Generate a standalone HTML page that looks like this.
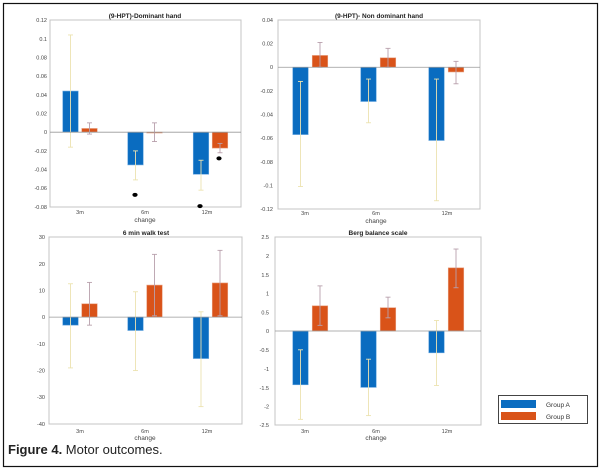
<!DOCTYPE html><html><head><meta charset="utf-8"><style>
body{margin:0;background:#fff}
svg{display:block;font-family:"Liberation Sans",sans-serif}
</style></head><body>
<svg id="s" width="601" height="471" viewBox="0 0 601 471" xmlns="http://www.w3.org/2000/svg">
<rect x="3.5" y="3.5" width="594" height="463" fill="#fff" stroke="#111" stroke-width="1.2"/>
<g font-size="5.5" fill="#444" text-anchor="end">
<text x="47" y="22">0.12</text><text x="47" y="41">0.1</text><text x="47" y="59.5">0.08</text><text x="47" y="78">0.06</text><text x="47" y="97">0.04</text><text x="47" y="115.5">0.02</text><text x="47" y="134">0</text><text x="47" y="153">-0.02</text><text x="47" y="171.5">-0.04</text><text x="47" y="190">-0.06</text><text x="47" y="209">-0.08</text>
<text x="273" y="22">0.04</text><text x="273" y="45.5">0.02</text><text x="273" y="69">0</text><text x="273" y="93">-0.02</text><text x="273" y="116.5">-0.04</text><text x="273" y="140">-0.06</text><text x="273" y="164">-0.08</text><text x="273" y="187.5">-0.1</text><text x="273" y="211">-0.12</text>
<text x="45" y="239">30</text><text x="45" y="266">20</text><text x="45" y="292.5">10</text><text x="45" y="319">0</text><text x="45" y="346">-10</text><text x="45" y="372.5">-20</text><text x="45" y="399">-30</text><text x="45" y="426">-40</text>
<text x="269" y="239">2.5</text><text x="269" y="258">2</text><text x="269" y="277">1.5</text><text x="269" y="295.5">1</text><text x="269" y="314.5">0.5</text><text x="269" y="333">0</text><text x="269" y="352">-0.5</text><text x="269" y="371">-1</text><text x="269" y="390">-1.5</text><text x="269" y="408.5">-2</text><text x="269" y="427">-2.5</text>
</g>
<g font-size="5.5" fill="#444" text-anchor="middle">
<text x="80" y="214">3m</text><text x="145" y="214">6m</text><text x="207" y="214">12m</text>
<text x="305" y="215">3m</text><text x="376" y="215">6m</text><text x="447" y="215">12m</text>
<text x="80" y="433">3m</text><text x="145" y="433">6m</text><text x="207" y="433">12m</text>
<text x="305" y="433">3m</text><text x="376" y="433">6m</text><text x="447" y="433">12m</text>
<g font-size="6.5"><text x="145" y="222">change</text><text x="376" y="223">change</text><text x="145" y="440">change</text><text x="376" y="440">change</text></g>
</g>
<g font-size="6.5" font-weight="bold" fill="#222" text-anchor="middle">
<text x="145" y="18">(9-HPT)-Dominant hand</text>
<text x="379" y="18">(9-HPT)- Non dominant hand</text>
<text x="146" y="235">6 min walk test</text>
<text x="378" y="235">Berg balance scale</text>
</g>
<g id="plots"></g>
<rect x="498.5" y="395.5" width="89" height="28" fill="#fff" stroke="#444" stroke-width="1"/>
<rect x="501" y="400" width="35" height="8" fill="#0a6cc0"/>
<rect x="501" y="412" width="35" height="8" fill="#d95319"/>
<g font-size="6.5" fill="#333"><text x="546" y="407">Group A</text><text x="546" y="419">Group B</text></g>
<text x="8" y="454" font-size="13" fill="#222"><tspan font-weight="bold">Figure 4.</tspan> Motor outcomes.</text>
</svg>
<script>
var P=[
{l:50,r:241,t:20,b:207,max:0.12,min:-0.08,c:[80,145,210.5],off:[-9.5,9.5],
 A:[[0.044,0.104,-0.016],[-0.035,-0.02,-0.051],[-0.045,-0.03,-0.062]],
 B:[[0.004,0.01,-0.002],[0,0.01,-0.01],[-0.017,-0.012,-0.022]],
 dots:[[135,-0.067],[200,-0.079],[219,-0.028]]},
{l:278,r:480,t:20,b:209,max:0.04,min:-0.12,c:[310,378,446],off:[-9.5,10],
 A:[[-0.057,-0.012,-0.101],[-0.029,-0.01,-0.047],[-0.062,-0.01,-0.113]],
 B:[[0.01,0.021,0],[0.008,0.016,0],[-0.004,0.005,-0.014]],dots:[]},
{l:49,r:242,t:237,b:424,max:30,min:-40,c:[80,145,210.5],off:[-9.5,9.5],
 A:[[-3,12.5,-19],[-5,9.5,-20],[-15.5,2,-33.5]],
 B:[[5,13,-3],[12,23.5,0.5],[12.8,25,0.5]],dots:[]},
{l:275,r:481,t:237,b:425,max:2.5,min:-2.5,c:[310,378,446],off:[-9.5,10],
 A:[[-1.43,-0.5,-2.35],[-1.5,-0.75,-2.25],[-0.58,0.28,-1.45]],
 B:[[0.67,1.2,0.15],[0.62,0.9,0.35],[1.68,2.18,1.15]],dots:[]}];
var h='';
P.forEach(function(p){
 function Y(v){return p.t+(p.max-v)/(p.max-p.min)*(p.b-p.t);}
 h+='<rect x="'+p.l+'" y="'+p.t+'" width="'+(p.r-p.l)+'" height="'+(p.b-p.t)+'" fill="#fff" stroke="#c4c4c4" stroke-width="1"/>';
 var z=Y(0);
 [['A','#0a6cc0','#ece3b0'],['B','#d95319','#b8a0ac']].forEach(function(g,gi){
  p[g[0]].forEach(function(d,i){
   var cx=p.c[i]+p.off[gi],w=15.5,y0=Math.min(Y(d[0]),z),y1=Math.max(Y(d[0]),z);
   h+='<rect x="'+(cx-w/2)+'" y="'+y0+'" width="'+w+'" height="'+Math.max(y1-y0,0.8)+'" fill="'+g[1]+'" stroke="'+(gi?'#e8a080':'#6aa8e0')+'" stroke-width="0.6"/>';
   var e1=Y(d[1]),e2=Y(d[2]);
   h+='<line x1="'+cx+'" x2="'+cx+'" y1="'+e1+'" y2="'+e2+'" stroke="'+g[2]+'" stroke-width="0.9"/>';
   h+='<line x1="'+(cx-2.5)+'" x2="'+(cx+2.5)+'" y1="'+e1+'" y2="'+e1+'" stroke="'+g[2]+'" stroke-width="0.9"/>';
   h+='<line x1="'+(cx-2.5)+'" x2="'+(cx+2.5)+'" y1="'+e2+'" y2="'+e2+'" stroke="'+g[2]+'" stroke-width="0.9"/>';
  });
 });
 h+='<line x1="'+p.l+'" x2="'+p.r+'" y1="'+z+'" y2="'+z+'" stroke="#999" stroke-width="0.8"/>';
 p.dots.forEach(function(d){h+='<ellipse cx="'+d[0]+'" cy="'+Y(d[1])+'" rx="2.6" ry="2" fill="#000"/>';});
});
document.getElementById('plots').innerHTML=h;
</script>
</body></html>
